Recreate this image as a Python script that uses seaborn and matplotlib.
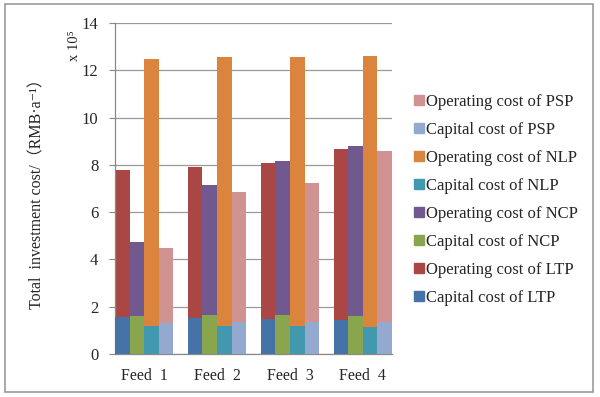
import matplotlib
matplotlib.use("Agg")
import matplotlib.pyplot as plt
import matplotlib.patches as mpatches
import seaborn as sns
import pandas as pd
import numpy as np

feeds = ["Feed  1", "Feed  2", "Feed  3", "Feed  4"]
processes = ["LTP", "NCP", "NLP", "PSP"]
capital = {
    "LTP": [1.55, 1.51, 1.47, 1.44],
    "NCP": [1.62, 1.64, 1.64, 1.59],
    "NLP": [1.20, 1.20, 1.20, 1.13],
    "PSP": [1.30, 1.34, 1.34, 1.34],
}
operating = {
    "LTP": [6.23, 6.39, 6.62, 7.24],
    "NCP": [3.13, 5.49, 6.54, 7.22],
    "NLP": [11.28, 11.36, 11.36, 11.49],
    "PSP": [3.20, 5.52, 5.89, 7.26],
}
y_ticks = [0, 2, 4, 6, 8, 10, 12, 14]

cap_colors = {"LTP": "#4572A7", "NCP": "#89A54E", "NLP": "#4198AF", "PSP": "#93A9CF"}
op_colors = {"LTP": "#AA4643", "NCP": "#71588F", "NLP": "#DB843D", "PSP": "#D19392"}

rows = []
for p in processes:
    for i, f in enumerate(feeds):
        rows.append({"feed": f, "process": p, "capital": capital[p][i],
                     "total": capital[p][i] + operating[p][i]})
df = pd.DataFrame(rows)

sns.set_style("white")
FAM = ["Liberation Serif", "DejaVu Serif", "Noto Sans CJK SC"]
plt.rcParams["font.family"] = FAM

fig = plt.figure(figsize=(6, 3.97), dpi=100)
ax = fig.add_axes([115/600, 1-354/397, (392-115)/600, (354-23)/397])

sns.barplot(data=df, x="feed", y="total", hue="process", order=feeds,
            hue_order=processes, palette=op_colors, saturation=1, width=0.8,
            errorbar=None, linewidth=0, legend=False, ax=ax, zorder=2)
sns.barplot(data=df, x="feed", y="capital", hue="process", order=feeds,
            hue_order=processes, palette=cap_colors, saturation=1, width=0.8,
            errorbar=None, linewidth=0, legend=False, ax=ax, zorder=3)

ax.set_xlim(-0.4, 3.4)
ax.set_ylim(0, 14)
ax.set_yticks(y_ticks)
ax.set_yticklabels([str(t) for t in y_ticks], fontsize=12)
ax.set_xticks(range(len(feeds)))
ax.set_xticklabels(feeds, fontsize=11.5)
ax.set_xticks(np.arange(-0.4, 3.41, 0.2), minor=True)
ax.tick_params(axis="x", which="major", length=0, pad=10)
ax.tick_params(axis="x", which="minor", length=4, width=0.8, color="#888888", direction="out")
ax.tick_params(axis="y", which="major", length=4, width=0.8, color="#888888", direction="out", left=True, pad=8)
ax.set_xlabel("")
ax.set_ylabel("")
fig.text(37/600, 1-190/397, "Total  investment cost/（RMB·a⁻¹）", rotation=90,
         ha="center", va="center", fontsize=11.5,
         family=["Liberation Serif", "Noto Sans CJK SC", "DejaVu Sans"])
ax.yaxis.grid(True, color="#999999", linewidth=0.9, zorder=0)
ax.set_axisbelow(True)
for s in ["top", "right"]:
    ax.spines[s].set_visible(False)
for s in ["left", "bottom"]:
    ax.spines[s].set_color("#888888")
    ax.spines[s].set_linewidth(0.9)

fig.text(74/600, 1-46/397, "x 10⁵", rotation=90, ha="center", va="center", fontsize=10.5,
         family=["Liberation Serif", "DejaVu Serif"])

handles = []
labels = []
for p in reversed(processes):
    handles.append(mpatches.Patch(color=op_colors[p]))
    labels.append(f"Operating cost of {p}")
    handles.append(mpatches.Patch(color=cap_colors[p]))
    labels.append(f"Capital cost of {p}")
fig.legend(handles, labels, loc="upper left", bbox_to_anchor=(414/600, 1-94/397),
           frameon=False, fontsize=12, handlelength=0.6, handleheight=0.6,
           handletextpad=0.15, labelspacing=0.72, borderpad=0, borderaxespad=0)

fig.add_artist(mpatches.Rectangle((5/600, 1-392/397), 588/600, 388/397,
                                  transform=fig.transFigure, fill=False,
                                  edgecolor="#999999", linewidth=1.2))

fig.savefig("out.png", dpi=100)
